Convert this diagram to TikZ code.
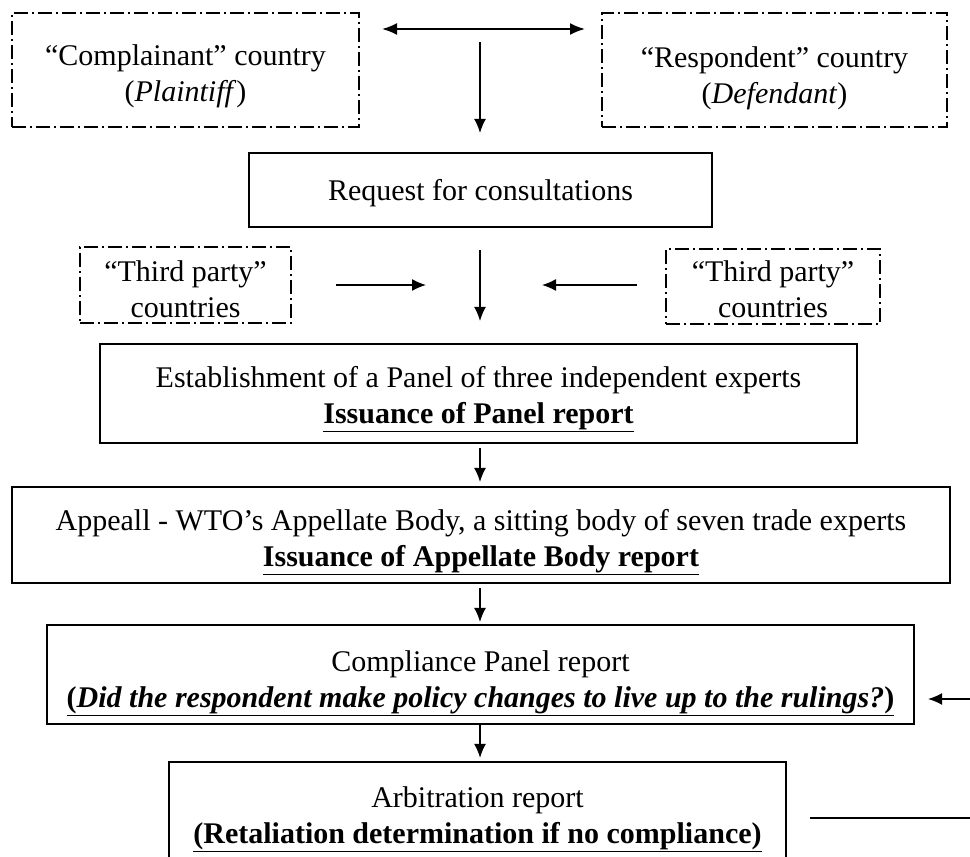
\documentclass[tikz,border=0pt]{standalone}
\usepackage{fontspec}
\setmainfont{Liberation Serif}
\usetikzlibrary{arrows.meta}
\tikzset{
  solidbox/.style={draw, line width=2.3pt, rectangle, inner sep=0pt},
  dashbox/.style={draw, line width=2.2pt, rectangle, inner sep=0pt, dash pattern=on 14pt off 4pt on 2pt off 4pt},
  txt/.style={align=center, inner sep=0pt, font=\fontsize{30}{36}\selectfont},
  arr/.style={line width=1.3pt, -{Latex[length=14pt,width=12pt]}},
  dblarr/.style={line width=1.9pt, {Latex[length=15pt,width=12pt]}-{Latex[length=15pt,width=12pt]}},
  plainline/.style={line width=1.3pt},
}
\begin{document}
\begin{tikzpicture}[x=1pt,y=-1pt]
\useasboundingbox (0,0) rectangle (970,857);
\fill[white] (0,0) rectangle (970,857);

% boxes
\node[dashbox, minimum width=347pt, minimum height=114pt] (comp) at (185.5,70) {};
\node[dashbox, minimum width=345pt, minimum height=114pt] (resp) at (774.5,70) {};
\node[solidbox, minimum width=463pt, minimum height=74pt] (req) at (480.5,190) {};
\node[dashbox, minimum width=211pt, minimum height=76pt] (tpL) at (185.5,285) {};
\node[dashbox, minimum width=214pt, minimum height=75pt] (tpR) at (773,286.5) {};
\node[solidbox, minimum width=757pt, minimum height=99pt] (est) at (478.5,393.5) {};
\node[solidbox, minimum width=938pt, minimum height=96pt] (app) at (481,535) {};
\node[solidbox, minimum width=867pt, minimum height=99pt] (cmp) at (480.5,674.5) {};
\node[rectangle, inner sep=0pt, minimum width=617pt, minimum height=95pt] (arb) at (477.5,809.5) {};
\draw[line width=2.3pt] (arb.south west) -- (arb.north west) -- (arb.north east) -- (arb.south east);

% texts
\node[txt] (compT) at (185.5,76) {“Complainant” country\\(\textit{Plaintiff})};
\node[txt] (respT) at (774.5,78) {“Respondent” country\\(\textit{Defendant})};
\node[txt] (reqT) at (480.5,193) {Request for consultations};
\node[txt] (tpLT) at (185.5,289) {“Third party”\\countries};
\node[txt] (tpRT) at (773,289) {“Third party”\\countries};
\node[txt] (estT) at (478.5,399) {Establishment of a Panel of three independent experts\\\underline{\textbf{Issuance of Panel report}}};
\node[txt] (appT) at (481,542) {Appeall - WTO’s Appellate Body, a sitting body of seven trade experts\\\underline{\textbf{Issuance of Appellate Body report}}};
\node[txt] (cmpT) at (480.5,683) {Compliance Panel report\\\underline{\textbf{(\textit{Did the respondent make policy changes to live up to the rulings?})}}};
\node[txt] (arbT) at (477.5,819) {Arbitration report\\\underline{\textbf{(Retaliation determination if no compliance)}}};

% connectors
\coordinate (da1) at (382,29);
\coordinate (da2) at (585,29);
\draw[dblarr] (da1) -- (da2);

\coordinate (a1s) at (480,42);
\draw[arr, shorten >=19pt] (a1s) -- (a1s |- req.north);

\coordinate (h1s) at (336,285);
\coordinate (h1e) at (426,285);
\draw[arr] (h1s) -- (h1e);
\coordinate (h2s) at (637,285);
\coordinate (h2e) at (542,285);
\draw[arr] (h2s) -- (h2e);

\coordinate (v2s) at (480,250);
\draw[arr, shorten >=22pt] (v2s) -- (v2s |- est.north);

\draw[arr, shorten <=4pt, shorten >=4pt] (480,0 |- est.south) -- (480,0 |- app.north);
\draw[arr, shorten <=4pt, shorten >=2pt] (480,0 |- app.south) -- (480,0 |- cmp.north);
\draw[arr, shorten <=0pt, shorten >=4pt] (480,0 |- cmp.south) -- (480,0 |- arb.north);

\coordinate (rin) at (970,699);
\draw[arr, shorten >=13pt] (rin) -- (rin -| cmp.east);

\coordinate (rout) at (970,818);
\draw[plainline, shorten <=24pt] (rout -| arb.east) -- (rout);
\end{tikzpicture}
\end{document}
